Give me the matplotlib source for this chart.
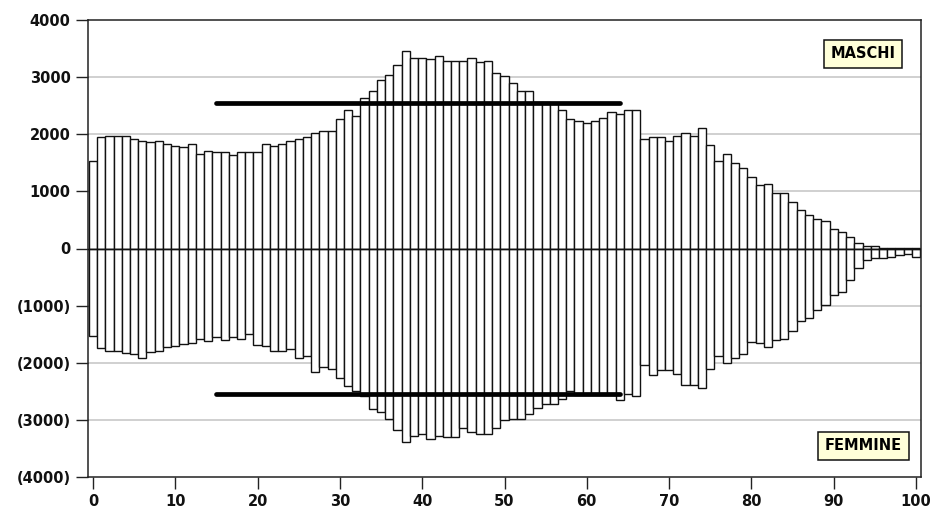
import matplotlib
matplotlib.use("Agg")
import matplotlib.pyplot as plt
import numpy as np

ages = list(range(0, 101))

males = [1540, 1945, 1965, 1965, 1965, 1920, 1890, 1860, 1890, 1830,
         1800, 1775, 1830, 1660, 1715, 1690, 1690, 1630, 1690, 1690,
         1690, 1830, 1800, 1830, 1880, 1920, 1950, 2026, 2055, 2055,
         2259, 2417, 2312, 2639, 2761, 2954, 3041, 3205, 3456, 3339,
         3339, 3321, 3368, 3281, 3281, 3281, 3339, 3263, 3285, 3071,
         3012, 2901, 2755, 2755, 2560, 2560, 2540, 2428, 2259, 2224,
         2195, 2224, 2283, 2388, 2359, 2417, 2417, 1921, 1944, 1944,
         1886, 1973, 2026, 1976, 2113, 1804, 1524, 1658, 1494, 1413,
         1249, 1109, 1132, 969, 969, 817, 677, 595, 508, 479,
         338, 295, 205, 90, 40, 40, 15, 12, 10, 8, 5]

females = [-1523, -1738, -1797, -1797, -1826, -1855, -1913, -1808, -1797, -1727,
           -1709, -1669, -1663, -1576, -1622, -1552, -1593, -1552, -1576, -1494,
           -1692, -1709, -1797, -1797, -1768, -1913, -1884, -2163, -2076, -2105,
           -2273, -2407, -2494, -2575, -2802, -2861, -2989, -3175, -3396, -3279,
           -3250, -3337, -3279, -3308, -3308, -3134, -3221, -3250, -3250, -3145,
           -3006, -2977, -2977, -2890, -2785, -2715, -2715, -2640, -2500, -2560,
           -2560, -2560, -2560, -2570, -2651, -2553, -2582, -2047, -2221, -2134,
           -2134, -2192, -2390, -2390, -2448, -2105, -1884, -2000, -1913, -1855,
           -1640, -1663, -1721, -1593, -1576, -1436, -1262, -1215, -1070, -994,
           -820, -762, -547, -343, -200, -165, -175, -145, -115, -95, -155]

ref_start, ref_end = 15, 64
ref_male = 2545
ref_female = -2550

yticks = [-4000, -3000, -2000, -1000, 0, 1000, 2000, 3000, 4000]
ytick_labels = ["(4000)", "(3000)", "(2000)", "(1000)", "0", "1000", "2000", "3000", "4000"]
xticks = list(range(0, 101, 10))

fig = plt.figure(figsize=(9.36, 5.13), dpi=100)
ax = fig.add_axes([88/936, 36/513, 833/936, 457/513])

for y in [-3000, -2000, -1000, 1000, 2000, 3000]:
    ax.axhline(y, color="#c8c8c8", lw=1.2, zorder=0)

ax.bar(ages, males, width=1.0, color="white", edgecolor="#111111", linewidth=1.0, zorder=2)
ax.bar(ages, females, width=1.0, color="white", edgecolor="#111111", linewidth=1.0, zorder=2)
ax.axhline(0, color="#111111", lw=1.0, zorder=3)

ax.plot([ref_start, ref_end], [ref_male, ref_male], color="black", lw=3.4,
        solid_capstyle="round", zorder=4)
ax.plot([ref_start, ref_end], [ref_female, ref_female], color="black", lw=3.4,
        solid_capstyle="round", zorder=4)

ax.set_xlim(-0.6, 100.6)
ax.set_ylim(-4000, 4000)
ax.set_yticks(yticks)
ax.set_yticklabels(ytick_labels)
ax.set_xticks(xticks)
ax.tick_params(axis="both", direction="out", length=8.5, width=1.0, pad=4,
               labelsize=10.5, colors="#222222")
for lab in ax.get_xticklabels() + ax.get_yticklabels():
    lab.set_fontweight("bold")
    lab.set_color("#111111")
for s in ax.spines.values():
    s.set_linewidth(1.1)
    s.set_color("#222222")

box = dict(boxstyle="square,pad=0.45", facecolor="#ffffd9", edgecolor="#111111", linewidth=1.1)
ax.text((863-88)/833, (513-54-36)/457, "MASCHI", transform=ax.transAxes,
        ha="center", va="center", fontsize=10.5, fontweight="bold", bbox=box, zorder=5)
ax.text((863.5-88)/833, (513-446-36)/457, "FEMMINE", transform=ax.transAxes,
        ha="center", va="center", fontsize=10.5, fontweight="bold", bbox=box, zorder=5)

fig.savefig("out.png", dpi=100)
